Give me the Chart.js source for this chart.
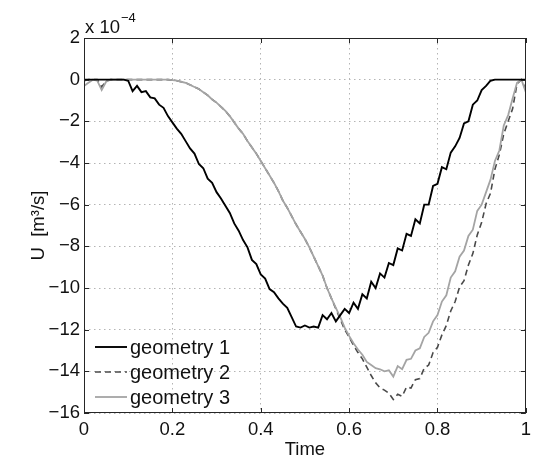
<!DOCTYPE html>
<html>
<head>
<meta charset="utf-8">
<script src="https://cdn.jsdelivr.net/npm/chart.js@4/dist/chart.umd.min.js"></script>
<style>
html,body{margin:0;padding:0;background:#fff;}
#wrap{width:537px;height:459px;position:relative;}
</style>
</head>
<body>
<div id="wrap"><canvas id="c" width="537" height="459"></canvas></div>
<script>
// Time axis (shared by all series)
const time = [
 0.00,0.01,0.02,0.03,0.04,0.05,0.06,0.07,0.08,0.09,
 0.10,0.11,0.12,0.13,0.14,0.15,0.16,0.17,0.18,0.19,
 0.20,0.21,0.22,0.23,0.24,0.25,0.26,0.27,0.28,0.29,
 0.30,0.31,0.32,0.33,0.34,0.35,0.36,0.37,0.38,0.39,
 0.40,0.41,0.42,0.43,0.44,0.45,0.46,0.47,0.48,0.49,
 0.50,0.51,0.52,0.53,0.54,0.55,0.56,0.57,0.58,0.59,
 0.60,0.61,0.62,0.63,0.64,0.65,0.66,0.67,0.68,0.69,
 0.70,0.71,0.72,0.73,0.74,0.75,0.76,0.77,0.78,0.79,
 0.80,0.81,0.82,0.83,0.84,0.85,0.86,0.87,0.88,0.89,
 0.90,0.91,0.92,0.93,0.94,0.95,0.96,0.97,0.98,0.99,
 1.00
];
// U values in units of 1e-4 m^3/s
const geometry1 = [
 0,0,0,0,0,0,0,0,0,0,
 -0.05,-0.55,-0.3,-0.6,-0.55,-0.85,-0.9,-1.2,-1.35,-1.75,
 -2.05,-2.35,-2.6,-2.95,-3.3,-3.55,-4.05,-4.25,-4.75,-4.95,
 -5.4,-5.7,-6.05,-6.4,-6.9,-7.25,-7.7,-8.05,-8.65,-8.85,
 -9.35,-9.55,-10.05,-10.2,-10.5,-10.75,-10.95,-11.4,-11.85,-11.9,
 -11.8,-11.9,-11.85,-11.9,-11.3,-11.5,-11.2,-11.6,-11.3,-11.0,
 -11.2,-10.7,-11.0,-10.3,-10.5,-9.7,-10.0,-9.3,-9.5,-8.8,
 -8.9,-8.1,-8.2,-7.4,-7.5,-6.7,-6.9,-6.0,-6.0,-5.1,
 -5.0,-4.2,-4.3,-3.5,-3.2,-2.8,-2.1,-2.0,-1.2,-1.0,
 -0.5,-0.3,-0.05,0,0,0,0,0,0,0,
 0
];
const geometry2 = [
 -0.05,0,0,0,-0.35,-0.05,0,0,0,0,
 0,0,0,0,0,0,0,0,0,0,
 -0.02,-0.05,-0.1,-0.15,-0.25,-0.35,-0.45,-0.6,-0.75,-0.95,
 -1.1,-1.3,-1.5,-1.75,-2.05,-2.35,-2.6,-2.95,-3.25,-3.55,
 -3.9,-4.25,-4.6,-4.95,-5.35,-5.8,-6.15,-6.55,-6.95,-7.3,
 -7.65,-8.05,-8.5,-8.95,-9.4,-10.0,-10.5,-11.0,-11.5,-12.0,
 -12.35,-12.75,-13.1,-13.4,-13.8,-14.2,-14.55,-14.8,-14.9,-15.05,
 -15.35,-15.1,-15.2,-14.75,-14.8,-14.4,-14.35,-13.85,-13.7,-13.1,
 -12.85,-12.25,-11.8,-11.1,-10.65,-9.95,-9.65,-8.9,-8.35,-7.45,
 -6.85,-5.95,-5.45,-4.3,-3.6,-2.6,-2.0,-1.4,-0.2,0,
 -0.5
];
const geometry3 = [
 -0.3,-0.15,0,-0.05,-0.5,-0.1,0,0,0,0,
 0,0,0,0,0,0,0,0,0,0,
 -0.02,-0.05,-0.1,-0.15,-0.25,-0.35,-0.45,-0.6,-0.75,-0.95,
 -1.1,-1.3,-1.5,-1.75,-2.05,-2.35,-2.6,-2.95,-3.25,-3.55,
 -3.9,-4.25,-4.6,-4.95,-5.35,-5.8,-6.15,-6.55,-6.95,-7.3,
 -7.65,-8.05,-8.5,-8.95,-9.4,-10.0,-10.5,-10.95,-11.4,-11.9,
 -12.3,-12.65,-12.95,-13.2,-13.55,-13.7,-13.85,-13.9,-14.0,-13.95,
 -14.25,-13.75,-13.9,-13.45,-13.4,-13.0,-12.9,-12.35,-12.15,-11.6,
 -11.3,-10.65,-10.35,-9.5,-9.2,-8.5,-8.2,-7.5,-7.2,-6.3,
 -6.0,-5.4,-4.8,-3.9,-3.4,-2.2,-1.7,-0.9,-0.15,0,
 -0.6
];
const seriesNames = ['geometry 1','geometry 2','geometry 3'];
const xTicks = [0,0.2,0.4,0.6,0.8,1];
const yTicks = [-16,-14,-12,-10,-8,-6,-4,-2,0,2];
const xTitle = 'Time';
const yTitle = 'U  [m\u00B3/s]';
const exponentBase = 'x 10';
const exponentPow = '\u22124';

const FONT = '"Liberation Sans", Arial, Helvetica, sans-serif';
const pts = arr => arr.map((v,i)=>({x:time[i], y:v}));

const styles = [
  {color:'#000000', width:1.9, dash:[]},
  {color:'#4a4a4a', width:1.6, dash:[6,4]},
  {color:'#a4a4a4', width:1.8, dash:[]}
];
const seriesData = [geometry1, geometry2, geometry3];

const decor = {
  id:'decor',
  afterDraw(chart){
    const {ctx, chartArea:a, scales:{x,y}} = chart;
    ctx.save();
    // frame
    ctx.strokeStyle = '#262626'; ctx.lineWidth = 1; ctx.setLineDash([]);
    ctx.strokeRect(Math.round(a.left)+0.5, Math.round(a.top)+0.5, Math.round(a.right-a.left)-1, Math.round(a.bottom-a.top)-1);
    // inner ticks
    const L = 5;
    ctx.beginPath();
    xTicks.forEach(t=>{ const px = Math.round(x.getPixelForValue(t))+0.5;
      ctx.moveTo(px,a.bottom); ctx.lineTo(px,a.bottom-L);
      ctx.moveTo(px,a.top); ctx.lineTo(px,a.top+L); });
    yTicks.forEach(t=>{ const py = Math.round(y.getPixelForValue(t))+0.5;
      ctx.moveTo(a.left,py); ctx.lineTo(a.left+L,py);
      ctx.moveTo(a.right,py); ctx.lineTo(a.right-L,py); });
    ctx.stroke();
    // legend
    ctx.font = '20px ' + FONT; ctx.fillStyle = '#111'; ctx.textBaseline = 'middle'; ctx.textAlign='left';
    const rows = [347,372,397];
    seriesNames.forEach((n,i)=>{
      const s = styles[i];
      ctx.beginPath(); ctx.strokeStyle = s.color; ctx.lineWidth = s.width; ctx.setLineDash(s.dash);
      ctx.moveTo(95,rows[i]); ctx.lineTo(127,rows[i]); ctx.stroke();
      ctx.setLineDash([]);
      ctx.fillText(n, 130, rows[i]+1);
    });
    // axis titles
    ctx.font = '18.5px ' + FONT;
    ctx.fillStyle = '#111';
    ctx.textAlign = 'center'; ctx.textBaseline = 'alphabetic';
    ctx.fillText(xTitle, (a.left+a.right)/2, 455);
    ctx.save();
    ctx.translate(44, (a.top+a.bottom)/2);
    ctx.rotate(-Math.PI/2);
    ctx.fillText(yTitle, 0, 0);
    ctx.restore();
    // exponent
    ctx.textAlign = 'left';
    ctx.fillText(exponentBase, 85, 33);
    const w = ctx.measureText(exponentBase).width;
    ctx.font = '13px ' + FONT;
    ctx.fillText(exponentPow, 85 + w + 1, 22);
    ctx.restore();
  }
};

new Chart(document.getElementById('c'), {
  type:'line',
  data:{
    datasets: seriesData.map((d,i)=>({
      label: seriesNames[i],
      data: pts(d),
      borderColor: styles[i].color,
      borderWidth: styles[i].width,
      borderDash: styles[i].dash,
      pointRadius:0, tension:0, fill:false,
      order: [0,2,1][i]
    }))
  },
  options:{
    responsive:false, animation:false, devicePixelRatio:1,
    layout:{padding:{left:0, right:11, top:38, bottom:0}},
    plugins:{legend:{display:false}, tooltip:{enabled:false}},
    scales:{
      x:{
        type:'linear', min:0, max:1,
        afterFit(s){ s.height = 46; },
        afterBuildTicks(s){ s.ticks = xTicks.map(v=>({value:v})); },
        ticks:{ font:{family:FONT, size:18.5}, color:'#111', padding:6, maxRotation:0,
          callback:v=> String(v) },
        grid:{ color:'#b4b4b4', lineWidth:1, drawTicks:false },
        border:{ display:false, dash:[1.5,3.5] }
      },
      y:{
        min:-16, max:2,
        afterFit(s){ s.width = 84; },
        afterBuildTicks(s){ s.ticks = yTicks.map(v=>({value:v})); },
        ticks:{ font:{family:FONT, size:18.5}, color:'#111', padding:4,
          callback:v=> v<0 ? '\u2212'+Math.abs(v) : String(v) },
        grid:{ color:'#b4b4b4', lineWidth:1, drawTicks:false },
        border:{ display:false, dash:[1.5,3.5] }
      }
    }
  },
  plugins:[decor]
});
</script>
</body>
</html>
